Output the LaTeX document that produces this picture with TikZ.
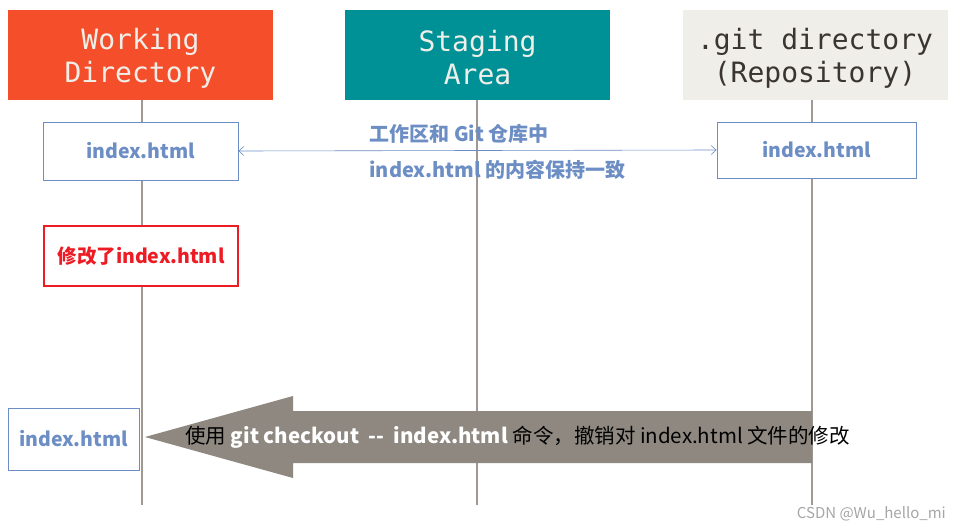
\documentclass[tikz,border=0pt]{standalone}
\usepackage{fontspec}
\setmainfont{Noto Sans CJK SC}
\newfontfamily\hdfont{DejaVu Sans Mono}
\usetikzlibrary{arrows.meta}
\definecolor{wdorange}{RGB}{245,78,43}
\definecolor{stageteal}{RGB}{0,145,150}
\definecolor{repobeige}{RGB}{240,238,232}
\definecolor{repotext}{RGB}{58,53,48}
\definecolor{fileblue}{RGB}{108,142,196}
\definecolor{modred}{RGB}{237,28,36}
\definecolor{arrowgray}{RGB}{142,136,128}
\definecolor{lifegray}{RGB}{160,152,146}
\begin{document}
\begin{tikzpicture}[x=1pt,y=-1pt,
  header/.style={minimum width=265pt,minimum height=90pt,inner sep=0pt,align=center,
    font=\hdfont\fontsize{28}{33}\selectfont},
  filebox/.style={draw=fileblue,fill=white,text=fileblue,line width=0.8pt,inner sep=0pt,
    font=\bfseries\fontsize{19.5}{22}\selectfont},
  lifeline/.style={draw=lifegray,line width=2pt}]
  \fill[white] (0,0) rectangle (961,530);
  \useasboundingbox (0,0) rectangle (961,530);

  \node[header,fill=wdorange,text=repobeige]   (wd)    at (140.5,55) {};
  \node[header,fill=stageteal,text=repobeige]  (stage) at (477.5,55) {};
  \node[header,fill=repobeige,text=repotext]   (repo)  at (815,55)   {};
  \node[header,text=repobeige] (wdtext)    at (140.5,58) {Working\\Directory};
  \node[header,text=repobeige] (stagetext) at (477.5,58) {Staging\\Area};
  \node[header,text=repotext]  (repotext)  at (815,58)   {.git directory\\(Repository)};

  \coordinate (wdend)    at (142,505);
  \coordinate (stageend) at (477,505);
  \coordinate (repoend)  at (812,505);
  \draw[lifeline] (wdend |- wd.south)       -- (wdend);
  \draw[lifeline] (stageend |- stage.south) -- (stageend);
  \draw[lifeline] (repoend |- repo.south)   -- (repoend);

  \node[filebox,minimum width=195pt,minimum height=58pt] (wdfile)   at (140.5,151) {index.html};
  \node[filebox,minimum width=199pt,minimum height=56pt] (repofile) at (816.5,150) {index.html};
  \draw[fileblue,line width=0.6pt,{Straight Barb[length=5pt,width=9pt]}-{Straight Barb[length=5pt,width=9pt]}]
    (wdfile.east) -- (repofile.west);
  \node[anchor=west,text=fileblue,font=\bfseries\fontsize{20}{22}\selectfont] (same1) at (366,134) {工作区和 Git 仓库中};
  \node[anchor=west,text=fileblue,font=\bfseries\fontsize{20}{22}\selectfont] (same2) at (366,170) {index.html 的内容保持一致};

  \node[filebox,draw=modred,text=modred,line width=1.2pt,minimum width=194pt,minimum height=60pt]
    (wdmod) at (141,256) {修改了index.html};

  \node[filebox,minimum width=131pt,minimum height=62pt] (wdback) at (73.5,439) {index.html};

  \fill[arrowgray] (812,411) -- (293,411) -- (293,396) -- (145,437) -- (293,478) -- (293,463) -- (812,463) -- cycle;
  \node[anchor=west,inner sep=0pt,font=\fontsize{20.5}{22}\selectfont] (checkout) at (185,437)
    {使用 \textcolor{white}{\bfseries git checkout \ -{}- \ index.html} 命令，撤销对 index.html 文件的修改};

  \node[anchor=south east,inner sep=0pt,text=gray!70,font=\fontsize{15}{18}\selectfont] (mark) at (946,521) {CSDN @Wu\_hello\_mi};
\end{tikzpicture}
\end{document}
